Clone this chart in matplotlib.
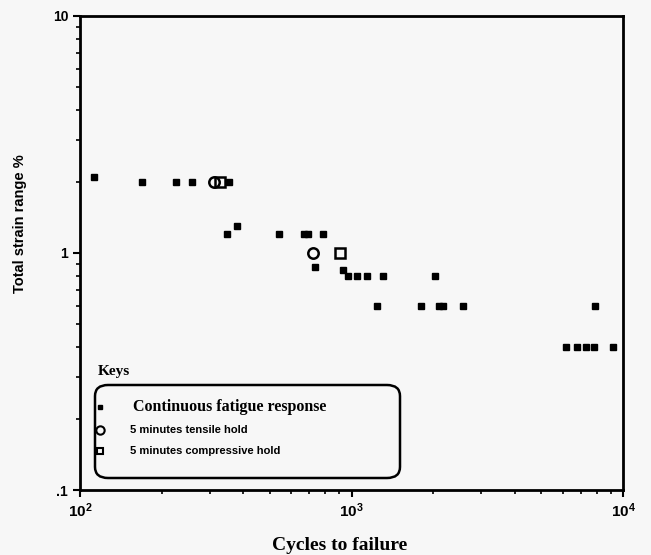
import matplotlib
matplotlib.use("Agg")
import matplotlib.pyplot as plt
from matplotlib.patches import FancyBboxPatch
from matplotlib.lines import Line2D
from matplotlib.ticker import LogLocator, NullFormatter, FixedLocator, FixedFormatter

plt.rcParams['mathtext.fontset'] = 'custom'
plt.rcParams['mathtext.rm'] = 'Liberation Sans:bold'
plt.rcParams['mathtext.it'] = 'Liberation Sans:bold'
plt.rcParams['mathtext.bf'] = 'Liberation Sans:bold'

# continuous fatigue response (filled squares)
cont_cycles = [113, 169, 226, 259, 355, 348, 380, 541, 670, 692, 787,
               736, 928, 968, 1048, 1137, 1310, 2031,
               1239, 1798, 2100, 2170, 2582, 7885,
               6152, 6745, 7289, 7835, 9204]
cont_strain = [2.1, 2.0, 2.0, 2.0, 2.0, 1.2, 1.3, 1.2, 1.2, 1.2, 1.2,
               0.87, 0.85, 0.8, 0.8, 0.8, 0.8, 0.8,
               0.6, 0.6, 0.6, 0.6, 0.6, 0.6,
               0.4, 0.4, 0.4, 0.4, 0.4]

# 5 minutes tensile hold (open circles)
tens_cycles = [312, 723]
tens_strain = [2.0, 1.0]

# 5 minutes compressive hold (open squares)
comp_cycles = [328, 907]
comp_strain = [2.0, 1.0]

bg = '#f7f7f7'
fig = plt.figure(figsize=(6.51, 5.55), dpi=100, facecolor=bg)
ax = fig.add_axes([0.1229, 0.1171, 0.8341, 0.8541], facecolor=bg)

ax.plot(cont_cycles, cont_strain, 's', color='black', ms=4.5, ls='none')
ax.plot(tens_cycles, tens_strain, 'o', mfc='none', mec='black', mew=1.8, ms=7.5, ls='none')
ax.plot(comp_cycles, comp_strain, 's', mfc='none', mec='black', mew=1.8, ms=6.5, ls='none')

ax.set_xscale('log')
ax.set_yscale('log')
ax.set_xlim(100, 10000)
ax.set_ylim(0.1, 10)

for s in ['left', 'bottom', 'top', 'right']:
    ax.spines[s].set_linewidth(2.0)

ax.xaxis.set_major_locator(FixedLocator([100, 1000, 10000]))
ax.xaxis.set_major_formatter(FixedFormatter([r'$10^2$', r'$10^3$', r'$10^4$']))
ax.xaxis.set_minor_locator(LogLocator(base=10, subs=range(2, 10)))
ax.xaxis.set_minor_formatter(NullFormatter())
ax.yaxis.set_major_locator(FixedLocator([0.1, 1, 10]))
ax.yaxis.set_major_formatter(FixedFormatter(['.1', '1', '10']))
ax.yaxis.set_minor_locator(LogLocator(base=10, subs=range(2, 10)))
ax.yaxis.set_minor_formatter(NullFormatter())
ax.tick_params(which='major', direction='out', length=5, width=1.5,
               labelsize=10, top=False, right=False)
ax.tick_params(axis='x', which='major', labelsize=11)
ax.tick_params(which='minor', direction='out', length=3, width=1.2,
               top=False, right=False)
for lab in ax.get_xticklabels() + ax.get_yticklabels():
    lab.set_family('Liberation Sans')
    lab.set_fontweight('bold')

# axis titles
fig.text(340 / 651, 1 / 555, 'Cycles to failure', family='Liberation Serif',
         fontweight='bold', fontsize=14, ha='center', va='bottom')
fig.text(20 / 651, 1 - 224 / 555, 'Total strain range %', family='Liberation Sans',
         fontweight='bold', fontsize=10.5, rotation=90, ha='center', va='center')

# legend ("Keys") drawn by hand
fig.text(98 / 651, 1 - 371 / 555, 'Keys', family='Liberation Serif',
         fontweight='bold', fontsize=11, va='center', ha='left')
box = FancyBboxPatch((95 / 651, 1 - 478 / 555), 305 / 651, 93 / 555,
                     boxstyle='round,pad=0,rounding_size=0.02',
                     transform=fig.transFigure, facecolor='none',
                     edgecolor='black', lw=1.8)
fig.patches.append(box)
rows = [
    (407, Line2D([100 / 651], [1 - 407 / 555], marker='s', color='black', ms=3.5,
                 ls='none', transform=fig.transFigure),
     'Continuous fatigue response', 'Liberation Serif', 11.5, 133),
    (430, Line2D([100 / 651], [1 - 430 / 555], marker='o', mfc='none', mec='black',
                 mew=1.5, ms=6, ls='none', transform=fig.transFigure),
     '5 minutes tensile hold', 'Liberation Sans', 8, 130),
    (451, Line2D([100 / 651], [1 - 451 / 555], marker='s', mfc='none', mec='black',
                 mew=1.5, ms=5, ls='none', transform=fig.transFigure),
     '5 minutes compressive hold', 'Liberation Sans', 8, 130),
]
for y, handle, label, fam, fs, x in rows:
    fig.lines.append(handle)
    fig.text(x / 651, 1 - y / 555, label, family=fam, fontweight='bold',
             fontsize=fs, va='center', ha='left')

fig.savefig('out.png', dpi=100, facecolor=bg)
